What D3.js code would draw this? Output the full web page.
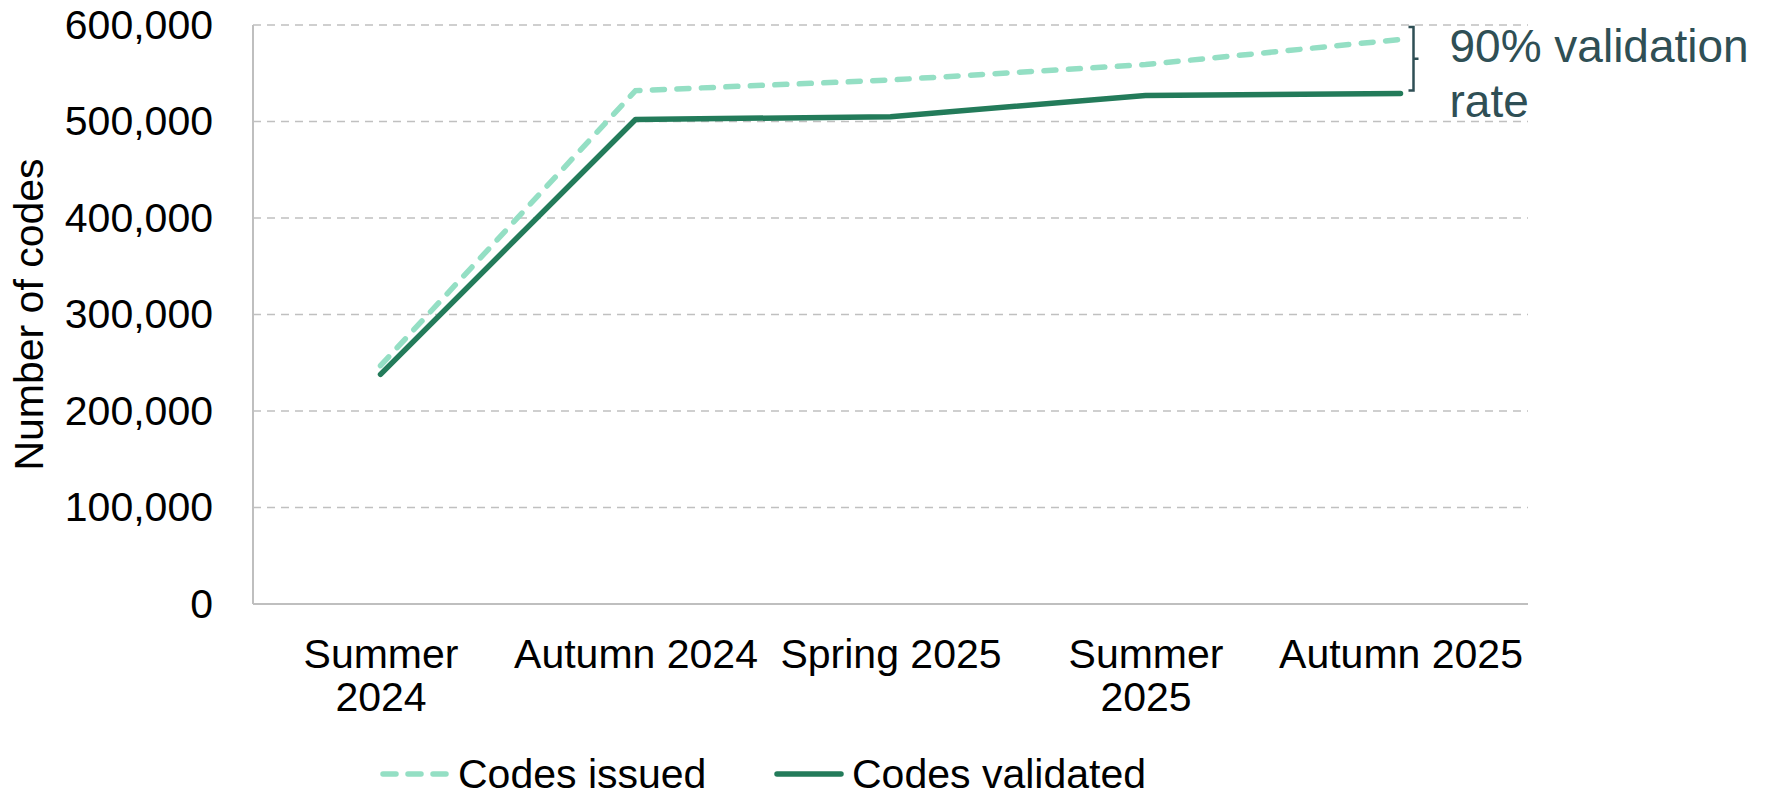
<!DOCTYPE html>
<html>
<head>
<meta charset="utf-8">
<style>
  html, body { margin: 0; padding: 0; background: #fff; }
  svg { display: block; font-family: "Liberation Sans", Arial, sans-serif; }
  .grid line { stroke: #c0c0c0; stroke-width: 1.5px; stroke-dasharray: 8,6; }
  .axis path, .axis line { stroke: #bfbfbf; stroke-width: 2px; }
  .tick text { fill: #000; font-size: 41px; }
</style>
</head>
<body>
<svg width="1765" height="792"></svg>
<script src="https://d3js.org/d3.v7.min.js"></script>
<script>

var categories = ["Summer 2024", "Autumn 2024", "Spring 2025", "Summer 2025", "Autumn 2025"];
var issued = [247000, 532000, 543000, 559000, 585000];
var validated = [238000, 502000, 505000, 527000, 529000];
var yTicks = [0, 100000, 200000, 300000, 400000, 500000, 600000];
var seriesNames = ["Codes issued", "Codes validated"];
var annotationLines = ["90% validation", "rate"];
var bracketRange = [532000, 598000];

var svg = d3.select("svg"),
    width = +svg.attr("width"),
    height = +svg.attr("height");

var margin = {top: 25, right: 237, bottom: 188, left: 253};

var x = d3.scalePoint()
    .domain(categories)
    .range([margin.left, width - margin.right])
    .padding(0.5);

var y = d3.scaleLinear()
    .domain([0, 600000])
    .range([height - margin.bottom, margin.top]);

var fmt = d3.format(",");

// gridlines
svg.append("g")
    .attr("class", "grid")
  .selectAll("line")
  .data(yTicks.filter(function(d) { return d > 0; }))
  .enter().append("line")
    .attr("x1", margin.left)
    .attr("x2", width - margin.right)
    .attr("y1", function(d) { return y(d); })
    .attr("y2", function(d) { return y(d); });

// y axis
var yAxis = svg.append("g")
    .attr("class", "axis")
    .attr("transform", "translate(" + margin.left + ",0)")
    .call(d3.axisLeft(y).tickValues(yTicks).tickFormat(fmt).tickSize(0).tickPadding(40));
yAxis.select(".domain").attr("d", "M0," + margin.top + "V" + (height - margin.bottom));

// x axis
var xAxis = svg.append("g")
    .attr("class", "axis")
    .attr("transform", "translate(0," + (height - margin.bottom) + ")")
    .call(d3.axisBottom(x).tickSize(0).tickPadding(0));
xAxis.select(".domain").attr("d", "M" + margin.left + ",0H" + (width - margin.right));

var step = x.step();
xAxis.selectAll(".tick text").each(function(d) {
  var t = d3.select(this);
  t.text(d).attr("y", 0).attr("dy", null);
  var lines = [d];
  if (this.getComputedTextLength() > step) {
    lines = d.split(" ");
  }
  t.text(null);
  lines.forEach(function(l, i) {
    t.append("tspan")
      .attr("x", 0)
      .attr("y", 64 + i * 42.5)
      .text(l);
  });
});

// y axis title
svg.append("text")
    .attr("transform", "translate(43," + ((margin.top + height - margin.bottom) / 2) + ") rotate(-90)")
    .attr("text-anchor", "middle")
    .style("font-size", "41px")
    .text("Number of codes");

var line = d3.line()
    .x(function(d, i) { return x(categories[i]); })
    .y(function(d) { return y(d); });

svg.append("path")
    .datum(issued)
    .attr("fill", "none")
    .attr("stroke", "#94dfc4")
    .attr("stroke-width", 5.5)
    .attr("stroke-linecap", "round")
    .attr("stroke-dasharray", "12,12.5")
    .attr("d", line);

svg.append("path")
    .datum(validated)
    .attr("fill", "none")
    .attr("stroke", "#237b5a")
    .attr("stroke-width", 5.5)
    .attr("stroke-linecap", "round")
    .attr("stroke-linejoin", "round")
    .attr("d", line);

// bracket annotation
var bx = x(categories[categories.length - 1]) + 8;
var bTop = y(bracketRange[1]), bBot = y(bracketRange[0]), bMid = (bTop + bBot) / 2;
svg.append("path")
    .attr("fill", "none")
    .attr("stroke", "#2f4f55")
    .attr("stroke-width", 2.5)
    .attr("d", "M" + bx + "," + bTop + "H" + (bx + 5) + "V" + bBot + "H" + bx +
               "M" + (bx + 5) + "," + bMid + "H" + (bx + 10));

var ann = svg.append("text")
    .attr("x", bx + 41)
    .attr("y", 62)
    .style("font-size", "46px")
    .attr("fill", "#2f4f55");
annotationLines.forEach(function(l, i) {
  ann.append("tspan").attr("x", bx + 41).attr("y", 62 + i * 55).text(l);
});

// legend
var legend = svg.append("g").attr("transform", "translate(380,774)");
var items = [
  {name: seriesNames[0], color: "#94dfc4", dash: "12,12.5", x: 0},
  {name: seriesNames[1], color: "#237b5a", dash: null, x: 394}
];
var li = legend.selectAll("g")
  .data(items)
  .enter().append("g")
    .attr("transform", function(d) { return "translate(" + d.x + ",0)"; });
li.append("line")
    .attr("x1", 3).attr("x2", 67)
    .attr("stroke", function(d) { return d.color; })
    .attr("stroke-width", 5.5)
    .attr("stroke-linecap", "round")
    .attr("stroke-dasharray", function(d) { return d.dash ? "13,12" : null; });
li.append("text")
    .attr("x", 78)
    .attr("dy", "0.35em")
    .style("font-size", "41px")
    .text(function(d) { return d.name; });

</script>
</body>
</html>
